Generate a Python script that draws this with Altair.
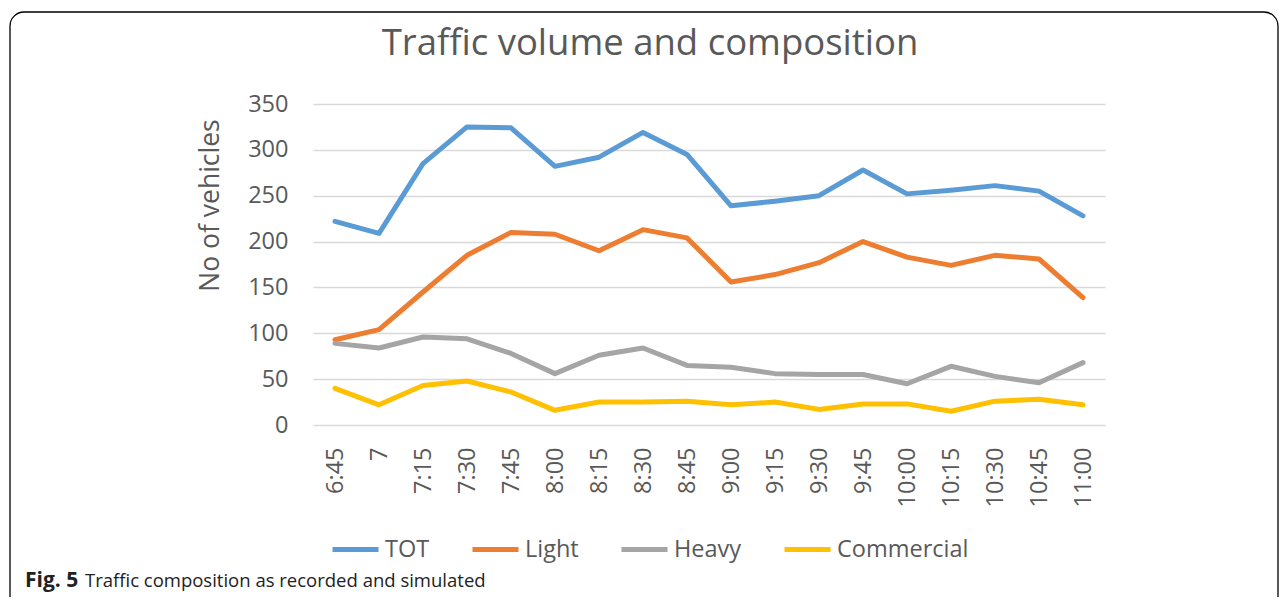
import altair as alt
import pandas as pd

times = ["6:45", "7", "7:15", "7:30", "7:45", "8:00", "8:15", "8:30", "8:45",
         "9:00", "9:15", "9:30", "9:45", "10:00", "10:15", "10:30", "10:45", "11:00"]
tot = [222, 209, 285, 325, 324, 282, 292, 319, 295, 239, 244, 250, 278, 252, 256, 261, 255, 228]
light = [93, 104, 145, 185, 210, 208, 190, 213, 204, 156, 164, 177, 200, 183, 174, 185, 181, 139]
heavy = [89, 84, 96, 94, 78, 56, 76, 84, 65, 63, 56, 55, 55, 45, 64, 53, 46, 68]
commercial = [40, 22, 43, 48, 36, 16, 25, 25, 26, 22, 25, 17, 23, 23, 15, 26, 28, 22]

series_names = ["TOT", "Light", "Heavy", "Commercial"]
series_colors = ["#5B9BD5", "#ED7D31", "#A5A5A5", "#FFC000"]

rows = []
for name, vals in zip(series_names, [tot, light, heavy, commercial]):
    for i, (t, v) in enumerate(zip(times, vals)):
        rows.append({"time": t, "order": i, "series": name, "value": v})
df = pd.DataFrame(rows)

FONT = "Open Sans"
GREY = "#595959"

lines = alt.Chart(df).mark_line(strokeWidth=5, strokeCap="round", strokeJoin="round").encode(
    x=alt.X("time:N", sort=times, title=None,
            scale=alt.Scale(type="point", padding=0.5),
            axis=alt.Axis(labelAngle=-90, labelFontSize=23.5, labelColor=GREY, labelFont=FONT,
                          labelPadding=22, ticks=False, domain=False, grid=False)),
    y=alt.Y("value:Q", title="No of vehicles",
            scale=alt.Scale(domain=[0, 350], nice=False),
            axis=alt.Axis(values=[0, 50, 100, 150, 200, 250, 300, 350], labelFontSize=23.5,
                          labelColor=GREY, labelFont=FONT, labelPadding=25, ticks=False,
                          domain=False, grid=True, gridColor="#D9D9D9", gridWidth=1.5,
                          titleFont=FONT, titleFontSize=26.5, titleFontWeight="normal",
                          titleColor=GREY, titleX=-103, titleY=101, titleAngle=270,
                          titleAlign="center", titleBaseline="middle")),
    color=alt.Color("series:N", sort=series_names,
                    scale=alt.Scale(domain=series_names, range=series_colors),
                    legend=alt.Legend(title=None, orient="none", direction="horizontal",
                                      legendX=17, legendY=420, symbolType="stroke",
                                      symbolStrokeWidth=5, symbolSize=2116,
                                      labelFontSize=23.5, labelFont=FONT, labelColor=GREY,
                                      labelOffset=4, columnPadding=32)),
    detail="series:N",
    order="order:Q",
)

border = alt.Chart(pd.DataFrame({"a": [0]})).mark_rect(
    fill=None, stroke="#000000", strokeWidth=1.3, cornerRadius=14
).encode(x=alt.value(-303), x2=alt.value(965), y=alt.value(-92), y2=alt.value(530))

title = alt.Chart(pd.DataFrame({"t": ["Traffic volume and composition"]})).mark_text(
    font=FONT, fontSize=36.5, color=GREY, align="center", baseline="middle"
).encode(text="t:N", x=alt.value(337), y=alt.value(-60))

cap_bold = alt.Chart(pd.DataFrame({"t": ["Fig. 5"]})).mark_text(
    font=FONT, fontSize=21, fontWeight="bold", color="#222222", align="left", baseline="middle"
).encode(text="t:N", x=alt.value(-288), y=alt.value(477))

cap_text = alt.Chart(pd.DataFrame({"t": ["Traffic composition as recorded and simulated"]})).mark_text(
    font=FONT, fontSize=18.5, color="#222222", align="left", baseline="middle"
).encode(text="t:N", x=alt.value(-228), y=alt.value(477))

chart = alt.layer(border, lines, title, cap_bold, cap_text).properties(
    width=792, height=321,
    autosize=alt.AutoSizeParams(type="none"),
    padding={"left": 305, "top": 96, "right": 174, "bottom": 172},
).configure_view(stroke=None)

chart.save("out.html", embed_options={"renderer": "svg", "actions": False})
